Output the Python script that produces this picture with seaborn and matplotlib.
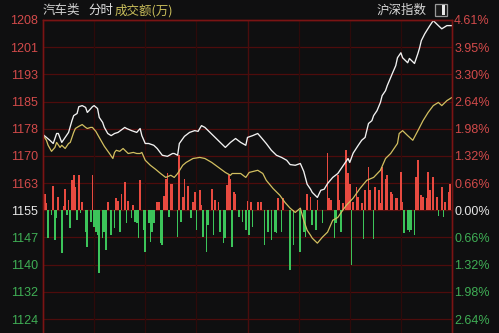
import numpy as np
import pandas as pd
import matplotlib
matplotlib.use("Agg")
import matplotlib.pyplot as plt
import seaborn as sns
from matplotlib.patches import Rectangle

# ---------------- data ----------------
base_price = 1155.0
step = 7.61
left_labels = ["1124", "1132", "1140", "1147", "1155", "1163", "1170",
               "1178", "1185", "1193", "1201", "1208"]
right_labels = ["2.64%", "1.98%", "1.32%", "0.66%", "0.00%", "0.66%", "1.32%",
                "1.98%", "2.64%", "3.30%", "3.95%", "4.61%"]
tick_steps = [-4, -3, -2, -1, 0, 1, 2, 3, 4, 5, 6, 7]

price_min = [0, 2, 4, 6, 8, 9, 11, 13, 15, 17, 18, 20, 21, 23, 25, 26, 27, 29, 30, 32,
             33, 35, 36, 38, 40, 42, 44, 48, 49, 52, 55, 57, 58, 60, 62, 65, 67, 70, 73, 76,
             77, 79, 80, 83, 86, 89, 91, 93, 95, 98, 101, 104, 107, 110, 113, 116, 119, 120,
             123, 126, 128, 131, 134, 137, 140, 143, 145, 148, 151, 153, 155, 157, 158, 161,
             163, 165, 167, 170, 173, 175, 177, 179, 180, 182, 185, 187, 189, 191, 193, 194,
             196, 198, 199, 201, 202, 205, 207, 208, 210, 211, 214, 215, 218, 220, 221, 222,
             224, 227, 229, 232, 234, 237, 240]
price_val = [1176.2, 1175.4, 1174.6, 1173.7, 1176.5, 1176.5, 1174.0, 1175.4, 1176.8, 1180.1,
             1181.5, 1182.1, 1184.0, 1184.3, 1183.8, 1182.4, 1182.9, 1184.0, 1184.3, 1183.5,
             1181.0, 1179.6, 1178.2, 1176.5, 1175.9, 1176.5, 1176.8, 1178.2, 1177.9, 1177.3,
             1176.8, 1177.9, 1175.9, 1173.7, 1173.7, 1173.2, 1172.3, 1170.4, 1170.1, 1170.9,
             1170.9, 1170.4, 1173.7, 1175.7, 1176.8, 1177.3, 1177.1, 1178.7, 1178.2, 1176.8,
             1175.4, 1174.0, 1172.6, 1174.0, 1175.1, 1174.0, 1173.2, 1175.4, 1175.9, 1176.5,
             1175.4, 1173.7, 1171.8, 1170.4, 1169.8, 1169.0, 1167.8, 1167.6, 1168.1, 1165.9,
             1162.3, 1160.9, 1160.0, 1158.6, 1160.6, 1160.9, 1162.5, 1164.2, 1165.3, 1166.7,
             1168.1, 1169.5, 1168.4, 1171.0, 1173.2, 1174.6, 1175.4, 1179.3, 1180.1, 1181.5,
             1182.9, 1185.2, 1187.1, 1188.5, 1189.9, 1193.3, 1195.5, 1197.7, 1199.1, 1197.7,
             1196.3, 1197.5, 1196.1, 1198.9, 1200.5, 1202.5, 1204.4, 1206.7, 1208.1, 1206.7,
             1205.8, 1206.7, 1206.7]

avg_min = [0, 2, 3, 5, 7, 8, 10, 11, 13, 15, 16, 18, 19, 21, 23, 25, 26, 28, 29, 31,
           33, 36, 39, 41, 42, 43, 45, 47, 50, 53, 55, 57, 58, 60, 63, 66, 69, 72, 75, 77,
           79, 82, 84, 88, 92, 95, 99, 103, 107, 110, 111, 116, 119, 121, 126, 129, 131, 135,
           139, 142, 145, 148, 151, 153, 155, 157, 158, 161, 164, 167, 170, 173, 175, 178,
           182, 186, 190, 194, 198, 201, 204, 208, 209, 211, 214, 217, 220, 223, 226, 229,
           232, 234, 237, 240]
avg_val = [1176.0, 1174.6, 1173.2, 1171.5, 1172.6, 1174.0, 1172.6, 1173.2, 1172.3, 1173.7,
           1174.0, 1176.8, 1177.9, 1178.5, 1179.0, 1178.2, 1177.9, 1178.2, 1178.2, 1177.1,
           1175.4, 1172.9, 1170.9, 1169.5, 1171.2, 1171.8, 1171.5, 1172.3, 1170.9, 1171.2,
           1170.9, 1170.9, 1171.2, 1169.0, 1167.6, 1166.5, 1165.3, 1164.2, 1164.8, 1164.2,
           1165.3, 1167.6, 1168.4, 1169.5, 1169.8, 1169.5, 1168.4, 1167.0, 1165.6, 1164.8,
           1165.3, 1165.3, 1164.2, 1165.6, 1166.2, 1165.3, 1163.4, 1161.1, 1159.2, 1157.2,
           1155.6, 1154.4, 1155.6, 1152.2, 1149.4, 1148.0, 1147.2, 1145.8, 1147.5, 1148.9,
           1152.2, 1153.0, 1154.4, 1156.4, 1158.4, 1161.1, 1163.4, 1164.2, 1166.2, 1169.5,
           1170.9, 1173.7, 1176.5, 1177.3, 1175.9, 1174.6, 1177.3, 1180.1, 1182.4, 1184.3,
           1185.2, 1184.3, 1185.7, 1186.6]

up_min = [1, 2, 6, 9, 12, 13, 15, 17, 18, 19, 21, 23, 29, 38, 43, 44, 46, 48, 50, 53,
          57, 67, 68, 71, 72, 73, 75, 76, 80, 82, 83, 85, 88, 89, 92, 93, 99, 101, 103, 108,
          109, 110, 112, 113, 120, 122, 126, 128, 138, 141, 155, 157, 161, 167, 168, 169, 173,
          174, 176, 178, 179, 180, 182, 184, 185, 187, 189, 191, 192, 195, 197, 198, 199, 201,
          202, 204, 205, 207, 208, 210, 211, 219, 220, 222, 223, 225, 226, 227, 229, 231, 234,
          236, 238, 239]
up_val = [4.7, 2.0, 6.7, 3.6, 1.1, 6.1, 2.8, 8.4, 9.8, 6.4, 9.8, 2.2, 9.8, 2.2, 3.4, 2.5,
          4.5, 7.8, 2.5, 1.4, 8.4, 2.2, 2.2, 3.9, 8.9, 10.3, 7.5, 7.5, 15.4, 3.6, 8.9, 6.7,
          2.2, 5.0, 5.6, 1.4, 6.1, 2.8, 2.2, 7.0, 9.8, 8.9, 5.0, 4.7, 2.5, 2.2, 2.2, 2.2, 3.4,
          3.4, 4.7, 3.6, 2.8, 15.9, 3.4, 2.8, 9.8, 2.8, 2.0, 16.8, 10.3, 7.5, 2.2, 6.4, 3.6,
          2.0, 5.6, 12.0, 5.6, 6.4, 5.6, 2.0, 12.0, 8.9, 9.8, 5.0, 4.7, 3.4, 3.4, 10.6, 2.2,
          9.2, 14.0, 4.2, 3.6, 3.4, 10.6, 5.6, 9.2, 3.6, 6.4, 2.2, 5.0, 7.5]

down_min = [0, 3, 5, 7, 8, 11, 14, 16, 20, 22, 25, 26, 28, 30, 31, 32, 33, 35, 36, 37,
            40, 42, 45, 49, 52, 54, 55, 56, 59, 60, 62, 63, 64, 65, 69, 70, 74, 79, 81, 87,
            90, 94, 96, 97, 100, 104, 106, 107, 111, 115, 117, 119, 121, 123, 130, 132, 134,
            136, 137, 140, 145, 147, 151, 153, 154, 158, 160, 164, 171, 172, 175, 181, 188,
            194, 212, 214, 215, 216, 218, 232, 235]
down_val = [4.7, 7.8, 1.4, 8.4, 2.2, 12.0, 1.4, 5.0, 2.8, 0.8, 6.1, 10.3, 3.4, 4.7, 6.1,
            7.0, 17.6, 7.8, 6.1, 11.2, 7.0, 5.0, 6.1, 3.6, 2.2, 3.4, 3.6, 7.8, 5.6, 11.7, 3.6,
            8.9, 6.1, 3.6, 9.2, 9.8, 2.0, 7.5, 3.4, 2.2, 5.6, 7.5, 11.7, 4.2, 7.0, 6.1, 9.2,
            7.8, 10.3, 2.0, 3.4, 5.6, 7.0, 4.7, 9.8, 6.1, 8.4, 6.1, 6.4, 6.1, 16.8, 9.8, 11.7,
            6.1, 7.5, 4.2, 5.6, 3.6, 7.8, 3.6, 6.1, 15.4, 8.1, 8.1, 6.4, 5.6, 6.1, 5.6, 7.0,
            1.7, 2.0]

# ---------------- style ----------------
BG = "#0f0f10"
GRID = "#4e0c0c"
BORDER = "#7a1414"
RED_TXT = "#d24a4a"
GRN_TXT = "#3fae55"
sns.set_theme(style="dark", rc={"axes.facecolor": BG, "figure.facecolor": BG})
plt.rcParams["font.family"] = ["Liberation Sans", "DejaVu Sans"]

fig = plt.figure(figsize=(4.99, 3.33), dpi=100)
W, H = 499, 333
ax = fig.add_axes([43 / W, 0, 409 / W, 313 / H])
ax.set_facecolor(BG)

ytop = base_price + 7 * step
ybot = base_price - step * (123 / 27.25)
tick_vals = [base_price + k * step for k in tick_steps]

# grid
for v in tick_vals:
    ax.axhline(v, color=GRID if v != base_price else "#5a1010", lw=0.9, zorder=0)
for m in [30, 60, 90, 150, 180, 210]:
    ax.axvline(m, color="#2e0a0a", lw=0.9, zorder=0)
ax.axvline(120, color="#4a0d0d", lw=1.0, zorder=0)

# bars
ax.bar(up_min, up_val, bottom=base_price, width=1.0, color="#e84a40", linewidth=0,
       zorder=2, antialiased=False)
ax.bar(down_min, [-v for v in down_val], bottom=base_price, width=1.0, color="#3cc45a",
       linewidth=0, zorder=2, antialiased=False)

# lines
price_df = pd.DataFrame({"minute": price_min, "value": price_val})
avg_df = pd.DataFrame({"minute": avg_min, "value": avg_val})
sns.lineplot(data=avg_df, x="minute", y="value", ax=ax, color="#d2bf60", lw=0.9, zorder=3)
sns.lineplot(data=price_df, x="minute", y="value", ax=ax, color="#f2f2f2", lw=0.95, zorder=4)

ax.set_xlim(0, 240)
ax.set_ylim(ybot, ytop)
ax.set_xlabel("")
ax.set_ylabel("")
ax.set_xticks([])
ax.grid(False)

ax.set_yticks(tick_vals)
ax.set_yticklabels(left_labels)
ax.tick_params(axis="y", length=0, pad=3.5, labelsize=9)
for lab, k in zip(ax.get_yticklabels(), tick_steps):
    lab.set_color(RED_TXT if k > 0 else ("#e6e6e6" if k == 0 else GRN_TXT))

ax2 = ax.twinx()
ax2.set_ylim(ybot, ytop)
ax2.set_yticks(tick_vals)
ax2.set_yticklabels(right_labels)
ax2.tick_params(axis="y", length=0, pad=1.5, labelsize=9)
ax2.grid(False)
for lab, k in zip(ax2.get_yticklabels(), tick_steps):
    lab.set_color(RED_TXT if k > 0 else ("#e6e6e6" if k == 0 else GRN_TXT))

for a in (ax, ax2):
    for s in ["left", "right", "top"]:
        a.spines[s].set_visible(True)
        a.spines[s].set_color(BORDER)
        a.spines[s].set_linewidth(1.0)
    a.spines["bottom"].set_visible(False)

# header texts
cjk = ["Noto Sans CJK SC", "DejaVu Sans"]
ty = 1 - 10.5 / H
fig.text(43 / W, ty, "汽车类", color="#cfcfcf", fontsize=9, family=cjk, va="center", ha="left")
fig.text(88 / W, ty, "分时", color="#e0e0e0", fontsize=9, family=cjk, va="center", ha="left")
fig.text(115 / W, ty, "成交额(万)", color="#c9bd5a", fontsize=9, family=cjk, va="center", ha="left")
fig.text(377 / W, ty, "沪深指数", color="#d6d6d6", fontsize=9, family=cjk, va="center", ha="left")
fig.patches.append(Rectangle((435 / W, 1 - 16 / H), 12 / W, 12 / H, transform=fig.transFigure,
                             facecolor="#1a1a1a", edgecolor="#9a9a9a", lw=0.9))
fig.patches.append(Rectangle((441.5 / W, 1 - 14.5 / H), 3 / W, 9 / H, transform=fig.transFigure,
                             facecolor="#e8e8e8", edgecolor="none"))

fig.savefig("out.png", dpi=100, facecolor=BG)
